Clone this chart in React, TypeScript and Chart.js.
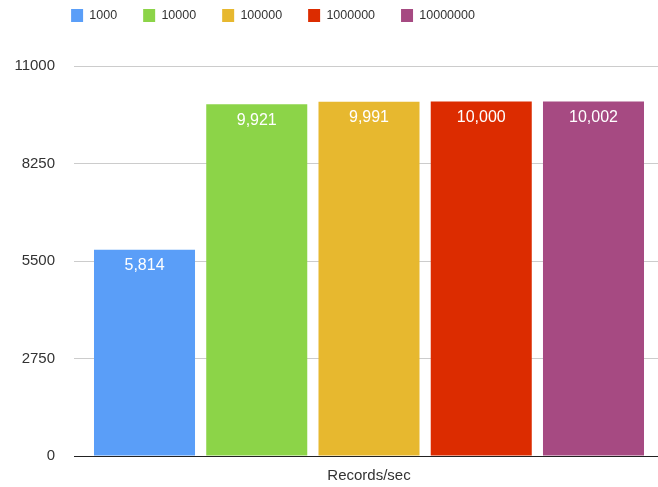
import React, { useEffect, useRef } from "react";
import { Chart, registerables } from "chart.js";

Chart.register(...registerables);

const categories = ["Records/sec"];
const seriesLabels = ["1000", "10000", "100000", "1000000", "10000000"];
const seriesValues = [5814, 9921, 9991, 10000, 10002];
const seriesColors = ["#5a9ef8", "#8cd448", "#e7b82f", "#dc2c00", "#a64a82"];
const yTicks = [0, 2750, 5500, 8250, 11000];

const FONT = "'Liberation Sans', Arial, Helvetica, sans-serif";

const barLabelPlugin = {
  id: "barLabels",
  afterDatasetsDraw(chart: any) {
    const ctx = chart.ctx;
    ctx.save();
    ctx.fillStyle = "#ffffff";
    ctx.font = `16px ${FONT}`;
    ctx.textAlign = "center";
    ctx.textBaseline = "middle";
    chart.data.datasets.forEach((ds: any, i: number) => {
      const meta = chart.getDatasetMeta(i);
      meta.data.forEach((el: any, j: number) => {
        const v = ds.data[j] as number;
        ctx.fillText(v.toLocaleString("en-US"), el.x, el.y + 16);
      });
    });
    ctx.restore();
  },
};

const legendShiftPlugin = {
  id: "legendShift",
  afterLayout(chart: any) {
    const lg = chart.legend;
    if (!lg) return;
    const dx = -56;
    const dy = -34;
    lg.left += dx;
    lg.right += dx;
    lg.top += dy;
    lg.bottom += dy;
  },
};

export default function App() {
  const ref = useRef<HTMLCanvasElement | null>(null);

  useEffect(() => {
    if (!ref.current) return;
    const chart = new Chart(ref.current, {
      type: "bar",
      data: {
        labels: categories,
        datasets: seriesLabels.map((label, i) => ({
          label,
          data: [seriesValues[i]],
          backgroundColor: seriesColors[i],
          borderWidth: 0,
          barPercentage: 0.9,
          categoryPercentage: 0.971,
        })),
      },
      options: {
        animation: false,
        responsive: true,
        maintainAspectRatio: false,
        layout: { padding: { left: 0, right: 0, top: 17, bottom: 0 } },
        plugins: {
          legend: {
            position: "top",
            labels: {
              boxWidth: 12,
              boxHeight: 13,
              padding: 26,
              color: "#333333",
              font: { family: FONT, size: 12.5 },
            },
          },
          tooltip: { enabled: false },
        },
        scales: {
          x: {
            grid: { display: false, drawTicks: false },
            border: { display: true, color: "#222222", width: 1 },
            afterFit(scale: any) {
              scale.height = 31;
            },
            ticks: {
              color: "#333333",
              padding: 11,
              font: { family: FONT, size: 15 },
            },
          },
          y: {
            min: 0,
            max: 11000,
            afterBuildTicks(scale: any) {
              scale.ticks = yTicks.map((v) => ({ value: v }));
            },
            afterFit(scale: any) {
              scale.width = 80;
            },
            border: { display: false },
            grid: {
              color: (c: any) => (c.tick && c.tick.value === 0 ? "#222222" : "#cccccc"),
              lineWidth: 1,
              drawTicks: true,
              tickLength: 6,
            },
            ticks: {
              color: "#333333",
              padding: 19,
              font: { family: FONT, size: 15 },
              callback: (v: any) => String(v),
            },
          },
        },
      },
      plugins: [barLabelPlugin, legendShiftPlugin],
    });
    return () => chart.destroy();
  }, []);

  return (
    <div style={{ position: "fixed", left: 0, top: 0, width: 658, height: 487, background: "#fff" }}>
      <canvas ref={ref} />
    </div>
  );
}
